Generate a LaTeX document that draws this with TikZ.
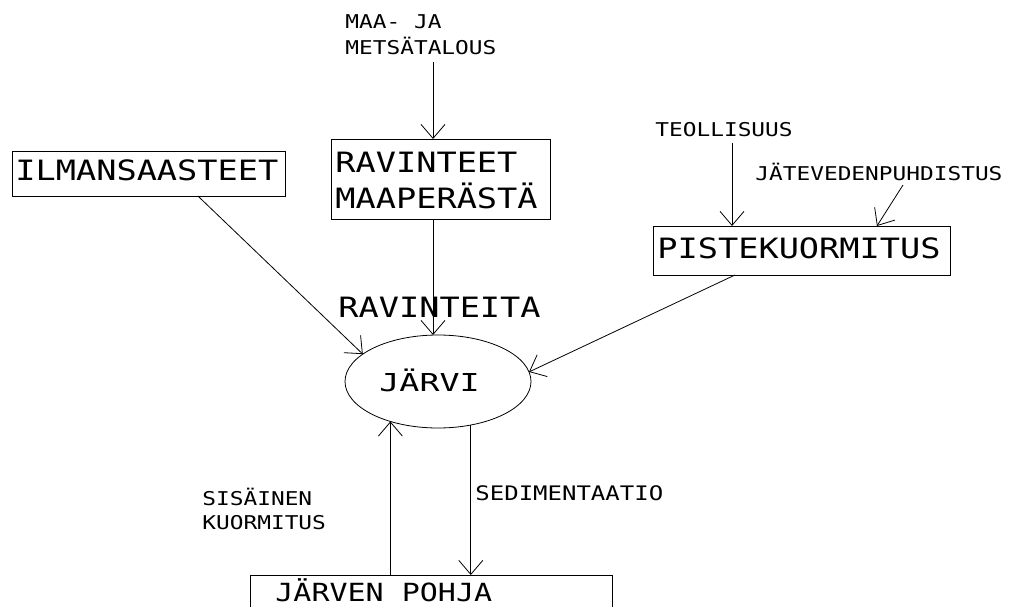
\documentclass[tikz,border=0pt]{standalone}
\usepackage{fontspec}
\usetikzlibrary{arrows.meta,calc,shapes.geometric}
\newfontfamily\cad{DejaVu Sans Mono}[FakeStretch=1.2]
\newfontfamily\cadw{DejaVu Sans Mono}[FakeStretch=1.35]
\begin{document}
\begin{tikzpicture}[x=1pt,y=-1pt,line width=0.8pt,
  big/.style={font=\cad\fontsize{28}{28}\selectfont, inner sep=0, anchor=base west},
  small/.style={font=\cad\fontsize{19}{19}\selectfont, inner sep=0, anchor=base west},
  box/.style={draw, rectangle, inner sep=0, outer sep=0},
  arr/.style={-{Straight Barb[length=14pt,width=24pt]}}
]
\useasboundingbox (0,0) rectangle (1025,607);
\clip (0,0) rectangle (1025,607);
% boxes
\node[box, minimum width=273pt, minimum height=45pt] (ilma) at (148.5,173.5) {};
\node[box, minimum width=219pt, minimum height=80pt] (rav) at (440.5,179) {};
\node[box, minimum width=297pt, minimum height=49pt] (pist) at (801.5,250.5) {};
\node[box, minimum width=362pt, minimum height=70pt] (pohja) at (431,610) {};
\node[draw, ellipse, minimum width=186pt, minimum height=93pt, inner sep=0, outer sep=0] (jarvi) at (438,381.5) {};
% texts
\node[big] (t-ilma) at (15,180) {ILMANSAASTEET};
\node[big] (t-rav1) at (335,172) {RAVINTEET};
\node[big] (t-rav2) at (335,208) {MAAPERÄSTÄ};
\node[big] (t-pist) at (657,258) {PISTEKUORMITUS};
\node[big] (t-ravi) at (338,317) {RAVINTEITA};
\node[big, font=\cad\fontsize{25}{25}\selectfont] (t-pohja) at (275,601) {JÄRVEN POHJA};
\node[font=\cadw\fontsize{24.7}{25}\selectfont, inner sep=0, anchor=base west] (t-jarvi) at (379,391) {JÄRVI};
\node[small] (t-maa1) at (345,29) {MAA- JA};
\node[small] (t-maa2) at (345,55) {METSÄTALOUS};
\node[small] (t-teol) at (655,136) {TEOLLISUUS};
\node[small] (t-jat) at (755,180) {JÄTEVEDENPUHDISTUS};
\node[small] (t-sis1) at (202,505) {SISÄINEN};
\node[small] (t-sis2) at (202,529) {KUORMITUS};
\node[small, font=\cad\fontsize{20}{20}\selectfont] (t-sed) at (475,500) {SEDIMENTAATIO};
% connectors
\coordinate (maa) at (433,62);
\draw[arr] (maa) -- (maa |- rav.north);
\draw[arr] (rav.south -| maa) -- (maa |- jarvi.north);
\draw[arr] ($(ilma.south west)!0.681!(ilma.south east)$) -- (jarvi.160.8);
\coordinate (teo) at (732,143);
\draw[arr] (teo) -- (teo |- pist.north);
\coordinate (jat) at (903,185);
\draw[arr] (jat) -- ($(pist.north west)!0.754!(pist.north east)$);
\draw[arr] ($(pist.south west)!0.276!(pist.south east)$) -- (jarvi.6);
\draw[arr] (jarvi.220.5 |- pohja.north) -- (jarvi.220.5);
\draw[arr] (jarvi.307.2) -- (jarvi.307.2 |- pohja.north);
\end{tikzpicture}
\end{document}
